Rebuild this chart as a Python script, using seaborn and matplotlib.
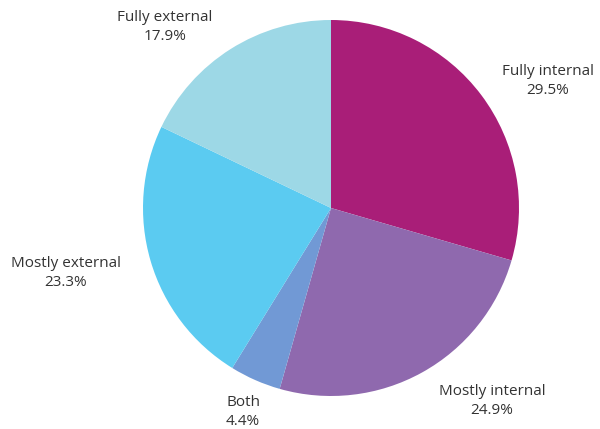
import matplotlib
matplotlib.use("Agg")
import matplotlib.pyplot as plt
import seaborn as sns

categories = ["Fully internal", "Mostly internal", "Both", "Mostly external", "Fully external"]
shares = [29.5, 24.9, 4.4, 23.3, 17.9]
colors = ["#A91E78", "#8F69AE", "#7199D5", "#5BCBF1", "#9DD8E6"]

# label anchor positions (pixels from top-left), layout only
label_pos = [(548, 81), (492, 401), (243, 412), (66, 273), (165, 27)]

sns.set_theme(style="white")
plt.rcParams['font.family'] = ['Open Sans', 'DejaVu Sans']

W, H = 600, 429
fig = plt.figure(figsize=(W / 100, H / 100), dpi=100)
ax = fig.add_axes([0, 0, 1, 1])

ax.pie(shares, colors=colors, startangle=90, counterclock=False,
       center=(331, H - 208), radius=188,
       wedgeprops=dict(linewidth=0), frame=True)
ax.set_xlim(0, W)
ax.set_ylim(0, H)
ax.set_aspect("equal")
ax.axis("off")

for cat, val, (x, y) in zip(categories, shares, label_pos):
    ax.text(x, H - y, f"{cat}\n{val:.1f}%", ha="center", va="center",
            fontsize=11, color="#333333", linespacing=1.35)

fig.savefig("out.png", dpi=100)
